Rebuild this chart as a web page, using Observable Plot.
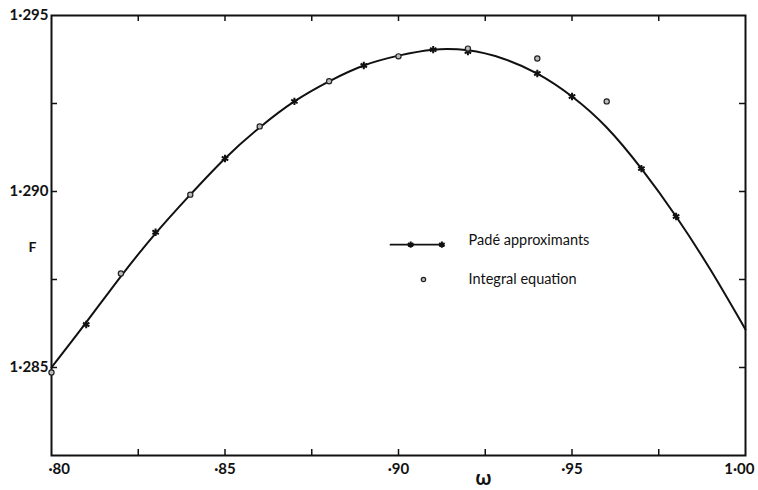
<!DOCTYPE html>
<html>
<head>
<meta charset="utf-8">
<script src="https://cdn.jsdelivr.net/npm/d3@7"></script>
<script src="https://cdn.jsdelivr.net/npm/@observablehq/plot@0.6"></script>
<style>
  html, body { margin: 0; padding: 0; background: #fff; }
  #chart svg { display: block; }
</style>
</head>
<body>
<div id="chart"></div>
<script>
// ---- data ----
// smooth Padé curve, omega = .80 ... 1.00
const omega = [0.80, 0.81, 0.82, 0.83, 0.84, 0.85, 0.86, 0.87, 0.88, 0.89, 0.90,
               0.91, 0.92, 0.93, 0.94, 0.95, 0.96, 0.97, 0.98, 0.99, 1.00];
const padeCurve = [1.28500, 1.28628, 1.28759, 1.28881, 1.28991, 1.29094, 1.29182, 1.29256, 1.29313, 1.29358, 1.29386,
                   1.29403, 1.29401, 1.29378, 1.29335, 1.29270, 1.29182, 1.29065, 1.28929, 1.28776, 1.28608];
// Padé approximant points (asterisk markers)
const padeOmega = [0.81, 0.83, 0.85, 0.87, 0.89, 0.91, 0.92, 0.94, 0.95, 0.97, 0.98];
const padeF     = [1.28622, 1.28884, 1.29094, 1.29256, 1.29358, 1.29403, 1.29398, 1.29335, 1.29270, 1.29065, 1.28929];
// Integral equation points (circles)
const integralOmega = [0.80, 0.82, 0.84, 0.86, 0.88, 0.90, 0.92, 0.94, 0.96];
const integralF     = [1.28486, 1.28767, 1.28991, 1.29185, 1.29313, 1.29384, 1.29406, 1.29378, 1.29256];
// axes
const xTickLabels = [0.80, 0.85, 0.90, 0.95, 1.00];
const xTicks = [0.825, 0.85, 0.875, 0.90, 0.925, 0.95, 0.975];
const yTickLabels = [1.285, 1.290, 1.295];
const yTicks = [1.285, 1.2875, 1.290, 1.2925];
const legendLabels = ["Padé approximants", "Integral equation"];

// ---- build ----
const curve = omega.map((w, i) => ({w, F: padeCurve[i]}));
const pade = padeOmega.map((w, i) => ({w, F: padeF[i]}));
const integral = integralOmega.map((w, i) => ({w, F: integralF[i]}));

const W = 758, H = 490;
const mL = 51, mR = 13, mT = 15, mB = 35;
const innerW = W - mL - mR, innerH = H - mT - mB;
const tickLen = 6;
const font = "Lato, 'DejaVu Sans', sans-serif";

// legend anchor (data coordinates inside the frame)
const legLineX = [0.8977, 0.9130], legY1 = 1.28849, legY2 = 1.28750;
const legTextX = 0.9202;

const fmtX = d => d === 1 ? "1·00" : "·" + Math.round(d * 100);
const fmtY = d => d.toFixed(3).replace(".", "·");
const xFirst = xTickLabels.slice(0, 1);
const xMid = xTickLabels.slice(1, -1);
const xLast = xTickLabels.slice(-1);
const axisStyle = {tickSize: 0, tickPadding: 8, tickFormat: fmtX, label: null, fontSize: 15, fontWeight: "bold"};

const chart = Plot.plot({
  width: W, height: H,
  marginLeft: mL, marginRight: mR, marginTop: mT, marginBottom: mB,
  style: {fontFamily: font, background: "#fff", color: "#111"},
  x: {domain: [0.80, 1.00], axis: null},
  y: {domain: [1.2825, 1.295], axis: null},
  marks: [
    Plot.frame({stroke: "#111", strokeWidth: 2}),
    // inward ticks on all four sides
    Plot.tickX(xTicks, {x: d => d, insetTop: innerH - tickLen, stroke: "#111", strokeWidth: 1.5}),
    Plot.tickX(xTicks, {x: d => d, insetBottom: innerH - tickLen, stroke: "#111", strokeWidth: 1.5}),
    Plot.tickY(yTicks, {y: d => d, insetRight: innerW - tickLen, stroke: "#111", strokeWidth: 1.5}),
    Plot.tickY(yTicks, {y: d => d, insetLeft: innerW - tickLen, stroke: "#111", strokeWidth: 1.5}),
    Plot.axisX({...axisStyle, ticks: xFirst, textAnchor: "start", dx: -3}),
    Plot.axisX({...axisStyle, ticks: xMid}),
    Plot.axisX({...axisStyle, ticks: xLast, textAnchor: "end", dx: 9}),
    Plot.axisY({ticks: yTickLabels, tickSize: 0, tickPadding: 3, tickFormat: fmtY, label: null,
                fontSize: 15, fontWeight: "bold"}),
    // axis titles
    Plot.text(["ω"], {x: 0.9245, frameAnchor: "bottom", dy: 29, fontSize: 20, fontWeight: "bold", fill: "#111"}),
    Plot.text(["F"], {y: 1.2884, frameAnchor: "left", dx: -23, fontSize: 14, fontWeight: "bold", fill: "#111"}),
    // curve and points
    Plot.line(curve, {x: "w", y: "F", curve: "natural", stroke: "#111", strokeWidth: 2}),
    Plot.dot(pade, {x: "w", y: "F", symbol: "asterisk", r: 3.5, stroke: "#111", strokeWidth: 2}),
    Plot.dot(integral, {x: "w", y: "F", symbol: "circle", r: 2.6, stroke: "#222", fill: "#bbb", strokeWidth: 1.2}),
    // legend
    Plot.line(legLineX.map(x => ({x, y: legY1})), {x: "x", y: "y", stroke: "#111", strokeWidth: 1.8}),
    Plot.dot([{x: 0.9035, y: legY1}, {x: 0.9125, y: legY1}], {x: "x", y: "y", symbol: "asterisk", r: 3, stroke: "#111", strokeWidth: 2}),
    Plot.dot([{x: 0.9072, y: legY2}], {x: "x", y: "y", r: 2.2, stroke: "#222", fill: "#bbb", strokeWidth: 1.2}),
    Plot.text([legendLabels[0]], {x: legTextX, y: legY1 + 0.00011, textAnchor: "start", fontSize: 14.5, fill: "#111", wordSpacing: 3}),
    Plot.text([legendLabels[1]], {x: legTextX, y: legY2 + 0.00001, textAnchor: "start", fontSize: 14.5, fill: "#111"})
  ]
});
document.getElementById("chart").appendChild(chart);
</script>
</body>
</html>
